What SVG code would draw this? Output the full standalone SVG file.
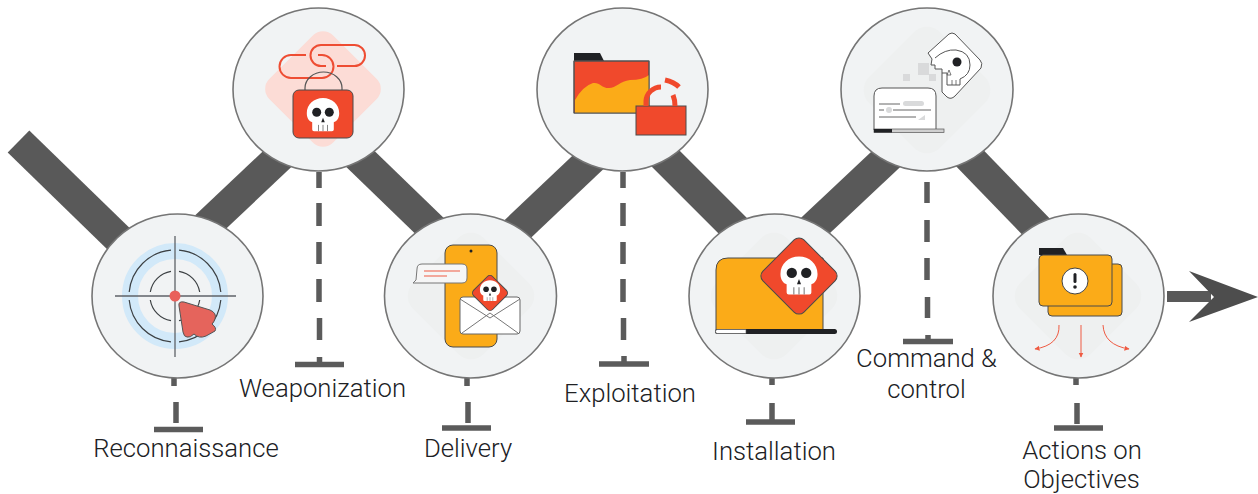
<svg xmlns="http://www.w3.org/2000/svg" width="1258" height="494" viewBox="0 0 1258 494">
<style>
.band{stroke:#595959;stroke-width:31;fill:none}
.dash{stroke:#5b5b5b;stroke-width:5.5;fill:none}
.ring{fill:#f1f3f4;stroke:#757575;stroke-width:1.6}
.halo{fill:#eef0f0}
.ol{stroke:#4a4a4a;stroke-width:1}
.red{fill:#f0492c}
.yel{fill:#fbab18}
.thin{fill:none;stroke:#555;stroke-width:1.2}
.pale{fill:#d9dadb}
.hair{fill:none;stroke:#ef5a42;stroke-width:1}
.lbl{font-family:Roboto,"Liberation Sans",sans-serif;font-size:25.7px;font-weight:300;fill:#202124;text-anchor:middle}
</style>
<defs>
<g id="skull">
<path fill="#fff" d="M-18,-2C-18,-12-10,-19 0,-19C10,-19 18,-12 18,-2C18,4 15,7 12,8V16Q12,18 10,18H-10Q-12,18-12,16V8C-15,7-18,4-18,-2Z"/>
<circle cx="-7" cy="-3" r="5" fill="#202124"/><circle cx="7" cy="-3" r="5" fill="#202124"/>
<path d="M0,3L2,8H-2Z" fill="#202124"/>
<path d="M-5,11V18M0,11V18M5,11V18" stroke="#777" stroke-width="1" fill="none"/>
</g>
<path id="q1" fill="none" stroke="#3c4043" stroke-width="1.2" d="M4,-45.8A46,46 0 0 1 45.8,-4"/>
<path id="q2" fill="none" stroke="#3c4043" stroke-width="1.2" d="M4,-24.7A25,25 0 0 1 24.7,-4"/>
<marker id="ah" markerWidth="6" markerHeight="6" refX="4.5" refY="2.5" orient="auto" markerUnits="userSpaceOnUse"><path d="M0,0L5,2.5L0,5Z" fill="#ef5a42"/></marker>
</defs>

<g id="connectors">
<path class="band" d="M18.5,141.5L125,245"/>
<path class="band" d="M200,232L290,147"/>
<path class="band" d="M348,147L440,236"/>
<path class="band" d="M505,241L600,151"/>
<path class="band" d="M652,145L745,238"/>
<path class="band" d="M800,240L900,146"/>
<path class="band" d="M957,145L1050,241"/>
<path class="dash" d="M174,377V386M176,402V423M154,429.500H203"/>
<path class="dash" d="M319,172V188M319,203V226M319,242V264M319,279V302M319.500,318V340M319.500,357V364M295,364.500H344"/>
<path class="dash" d="M467,377V386M468,402V423M442,428H491"/>
<path class="dash" d="M623,172V188M623,203V226M623,242V264M623,279V302M623.500,318V340M624,356V364M599,364H649"/>
<path class="dash" d="M772,378V385M772,403V421M746,422H795"/>
<path class="dash" d="M927,182V203M927,220V242M927,258V280M927.500,297V318M928,335V341M903,341.500H953"/>
<path class="dash" d="M1076,378V385M1077,403V424M1054,428H1103"/>
<path d="M1167,291H1211V302H1167Z" fill="#595959"/>
<path d="M1189,271L1258,297L1189,322L1214,297Z" fill="#4d4d4d"/>
</g>

<g id="reconnaissance">
<ellipse class="ring" cx="177.500" cy="296" rx="85.500" ry="82"/>
<circle cx="175" cy="296" r="45" fill="none" stroke="#d2e9f9" stroke-width="16"/>
<g transform="translate(175 296)">
<use href="#q1"/><use href="#q1" transform="rotate(90)"/><use href="#q1" transform="rotate(180)"/><use href="#q1" transform="rotate(270)"/>
<use href="#q2"/><use href="#q2" transform="rotate(90)"/><use href="#q2" transform="rotate(180)"/><use href="#q2" transform="rotate(270)"/>
</g>
<path d="M115,296H236M175,236V357" stroke="#5f6368" stroke-width="1.3" fill="none"/>
<circle cx="175" cy="296" r="5.500" fill="#e9605a"/>
<path d="M179,306Q178,301 184,302L210,310Q217,313 215,319Q214,322 212,324Q217,328 215,331L206,336Q199,339 194,334Q190,338 187,337Q184,337 183,332Z" fill="#e5645c" stroke="#555" stroke-width="1"/>
<text class="lbl" x="186" y="457">Reconnaissance</text>
</g>

<g id="weaponization">
<ellipse class="ring" cx="318.500" cy="89.500" rx="85.500" ry="81.500"/>
<rect x="278" y="44" width="90" height="90" rx="14" fill="#fcdcd6" transform="rotate(45 323 89)"/>
<path d="M306,55H291A11.500,11.500 0 0 0 291,78H322A11.500,11.500 0 0 0 322,55H318" fill="none" stroke="#ee4d33" stroke-width="2"/>
<path d="M337,66H354.500A10.500,10.500 0 0 0 354.500,45H321A10.500,10.500 0 0 0 321,66H326" fill="none" stroke="#ee4d33" stroke-width="2"/>
<path class="thin" d="M305,90V88A18.500,16 0 0 1 342,88V90"/>
<rect class="red ol" x="293" y="90" width="60" height="48" rx="6"/>
<use href="#skull" transform="translate(323 115) scale(.9)"/>
<text class="lbl" x="322.500" y="397">Weaponization</text>
</g>

<g id="delivery">
<ellipse class="ring" cx="470.500" cy="296" rx="86" ry="82"/>
<rect class="halo" x="421" y="246" width="100" height="100" rx="18" transform="rotate(45 471 296)"/>
<rect class="yel ol" x="445" y="245" width="52" height="102" rx="8"/>
<circle cx="471" cy="251" r="1.500" fill="#202124"/>
<path d="M417,269Q417,264 422,264H462Q467,264 467,269V278Q467,283 462,283H413L416,280Z" fill="#f6f6f6" stroke="#777" stroke-width="1"/>
<path class="hair" d="M424,271H460M424,276H447"/>
<rect x="460" y="297" width="60" height="37" rx="3" fill="#fff" stroke="#666" stroke-width="1"/>
<path d="M460,299L490,318L520,299M462,333L490,313L518,333" fill="none" stroke="#777" stroke-width="1"/>
<rect class="red ol" x="476.500" y="279.500" width="27" height="27" rx="4" transform="rotate(45 490 293)"/>
<use href="#skull" transform="translate(490 291) scale(.56)"/>
<text class="lbl" x="468" y="457">Delivery</text>
</g>

<g id="exploitation">
<ellipse class="ring" cx="622.500" cy="89.500" rx="85.500" ry="81.500"/>
<path d="M574,53H600L604,61H574Z" fill="#202124"/>
<rect class="red ol" x="574" y="61" width="75" height="52"/>
<path class="yel" d="M575,100Q583,86 593,83C600,82 601,88 609,88C616,88 620,81 630,80Q643,80 649,75V113H575Z"/>
<path d="M574,61H649V113H574Z" fill="none" stroke="#555" stroke-width="1"/>
<rect class="red ol" x="636" y="106" width="50" height="29"/>
<path d="M646,106V101A15,15 0 0 1 661,87" fill="none" stroke="#f0492c" stroke-width="5"/>
<path d="M665,80Q674,82 679,87M673,95Q675,100 675,106" fill="none" stroke="#f0492c" stroke-width="5"/>
<text class="lbl" x="630" y="402">Exploitation</text>
</g>

<g id="installation">
<ellipse class="ring" cx="774.500" cy="296" rx="85.500" ry="82"/>
<rect class="halo" x="724" y="246" width="100" height="100" rx="18" transform="rotate(45 774 296)"/>
<path class="yel ol" d="M716,330V270Q716,258 728,258H823V330Z"/>
<rect x="715" y="329" width="122" height="5" rx="2.500" fill="#202124"/>
<path d="M717.500,329.500H746V333.500H717.500Q715.500,333.500 715.500,331.500Q715.500,329.500 717.500,329.500Z" fill="#fff" stroke="#555" stroke-width=".6"/>
<rect class="red ol" x="770" y="247" width="58" height="58" rx="7" transform="rotate(45 799 276)"/>
<use href="#skull" transform="translate(799 276) scale(1.03)"/>
<text class="lbl" x="774" y="460">Installation</text>
</g>

<g id="command-control">
<ellipse class="ring" cx="927" cy="89.500" rx="86" ry="81.500"/>
<rect class="halo" x="877" y="40" width="100" height="100" rx="18" transform="rotate(45 927 90)"/>
<path d="M874,130V96Q874,88 882,88H928Q936,88 936,96V130Z" fill="#fff" stroke="#555" stroke-width="1"/>
<rect x="874" y="129" width="70" height="3.500" fill="#d0d0d0" stroke="#555" stroke-width=".7"/>
<rect x="874" y="129" width="18" height="3.500" fill="#202124"/>
<path d="M879,104H900M879,110H884M893,110H931M879,117H916" stroke="#666" stroke-width="1" fill="none"/>
<rect class="pale" x="903" y="101" width="21" height="5" rx="2.500"/>
<circle class="pale" cx="889" cy="110" r="3"/>
<path class="pale" d="M925,115V120H918Z"/>
<rect class="pale" x="918" y="63" width="11" height="12"/>
<rect class="pale" x="903" y="74" width="7" height="7"/>
<rect class="pale" x="929" y="74" width="7" height="7"/>
<path d="M949,34Q952,32 955,34L980,60Q983,63 981,68L955,96Q951,100 947,97L942,92V69H935V65H931L932,59L928,53Z" fill="#fff" stroke="#555" stroke-width="1"/>
<path d="M935,58Q945,49 956,50Q970,52 970,65Q970,75 960,79V85H947V73H942" fill="none" stroke="#555" stroke-width="1"/>
<circle cx="957" cy="62" r="4.500" fill="#202124"/>
<path d="M949,70L951,75H947Z" fill="none" stroke="#555" stroke-width=".8"/>
<path d="M952,80V85M956,80V85" stroke="#555" stroke-width=".8" fill="none"/>
<text class="lbl" x="926.500" y="367">Command &amp;</text>
<text class="lbl" x="926.500" y="398">control</text>
</g>

<g id="actions-on-objectives">
<ellipse class="ring" cx="1078.500" cy="296" rx="85.500" ry="82"/>
<rect class="halo" x="1028" y="246" width="100" height="100" rx="18" transform="rotate(45 1078 296)"/>
<rect class="yel ol" x="1048" y="264" width="74" height="52" rx="4"/>
<path d="M1039,248H1063L1067,255H1039Z" fill="#202124"/>
<rect class="yel ol" x="1039" y="255" width="73" height="51" rx="4"/>
<circle cx="1075" cy="281" r="13" fill="#fff" stroke="#444" stroke-width="1"/>
<rect x="1073.500" y="273" width="3" height="10" rx="1.500" fill="#202124"/>
<circle cx="1075" cy="287" r="1.800" fill="#202124"/>
<path class="hair" marker-end="url(#ah)" d="M1081,325V357"/>
<path class="hair" marker-end="url(#ah)" d="M1059,325Q1060,345 1035,349"/>
<path class="hair" marker-end="url(#ah)" d="M1103,325Q1104,345 1129,349"/>
<text class="lbl" x="1082" y="459">Actions on</text>
<text class="lbl" x="1081.500" y="488">Objectives</text>
</g>
</svg>
